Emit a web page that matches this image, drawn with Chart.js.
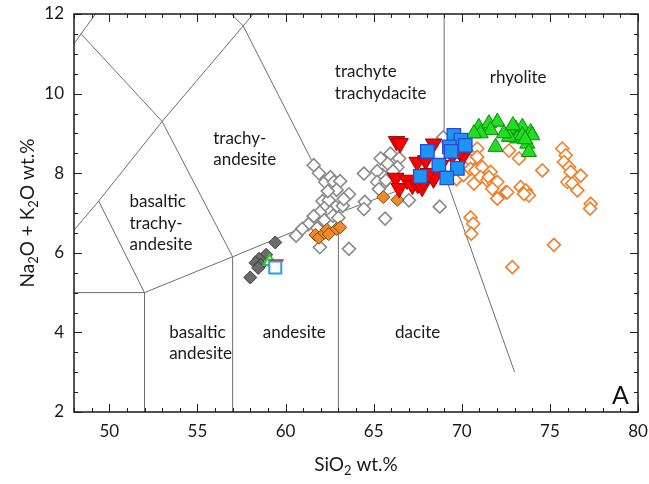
<!DOCTYPE html>
<html>
<head>
<meta charset="utf-8">
<script src="https://cdn.jsdelivr.net/npm/chart.js@4.4.1/dist/chart.umd.min.js"></script>
<style>
html,body{margin:0;padding:0;background:#fff;}
canvas{display:block;}
</style>
</head>
<body>
<canvas id="c" width="649" height="484" style="width:649px;height:484px"></canvas>
<script>
// ---- axis ranges & tick labels ----
const xRange = [48, 80];
const yRange = [2, 12];
const xTickLabels = [50, 55, 60, 65, 70, 75, 80];
const yTickLabels = [2, 4, 6, 8, 10, 12];

// ---- TAS field boundaries (SiO2, Na2O+K2O) ----
const boundaryA = [[45, 9.4], [48.4, 11.5], [52.5, 14]];
const boundaryB = [[48.4, 11.5], [53, 9.3], [57, 5.9]];
const boundaryC = [[45, 5], [49.4, 7.3], [53, 9.3], [57.6, 11.7], [61, 13.5]];
const boundaryD = [[49.4, 7.3], [52, 5]];
const boundaryE = [[52.5, 14], [57.6, 11.7], [63, 7]];
const boundaryF = [[69, 8], [69, 12]];
const boundaryG = [[45, 5], [52, 5]];
const boundaryH1 = [[52, 2], [52, 5]];
const boundaryH2 = [[57, 2], [57, 5.9]];
const boundaryH3 = [[63, 2], [63, 7]];
const boundaryI = [[52, 5], [57, 5.9], [63, 7], [69, 8]];
const boundaryJ = [[69, 8], [73, 3]];

// ---- field names ----
const fieldLabels = [
  {lines: ["trachyte", "trachydacite"], x: 62.8, y: 10.55, align: "left"},
  {lines: ["rhyolite"], x: 73.2, y: 10.4, align: "center"},
  {lines: ["trachy-", "andesite"], x: 55.9, y: 8.88, align: "left"},
  {lines: ["basaltic", "trachy-", "andesite"], x: 51.15, y: 7.28, align: "left"},
  {lines: ["basaltic", "andesite"], x: 53.4, y: 4.0, align: "left"},
  {lines: ["andesite"], x: 60.5, y: 4.0, align: "center"},
  {lines: ["dacite"], x: 67.5, y: 4.0, align: "center"}
];
const panelLetter = "A";

// ---- sample series (SiO2, Na2O+K2O) ----
const grayOpenDiamonds = [
  [61.6,8.2],[61.9,8.0],[62.25,7.78],[62.55,7.9],[62.75,7.78],[63.1,7.8],[62.9,7.58],[63.6,7.47],
  [62.1,7.3],[62.45,7.32],[62.2,7.12],[62.85,7.15],[63.25,7.18],[62.55,7.02],[61.95,7.02],[61.6,6.92],
  [62.2,6.82],[62.7,6.93],[63.0,6.88],[61.3,6.72],[60.95,6.6],[60.6,6.43],[61.95,6.14],[63.6,6.1],
  [64.45,7.99],[64.5,7.28],[64.45,7.1],[65.65,6.86],[65.4,8.37],[65.95,8.49],[65.8,8.24],[66.45,8.37],
  [66.35,8.15],[65.5,7.95],[65.55,7.74],[67.0,7.32],[68.75,7.16],[68.95,8.9],[62.4,7.55],[63.3,7.35],
  [62.0,6.55],[61.8,6.62],[66.1,8.05],[65.2,8.05],[65.2,7.78],[65.7,7.82],[65.3,7.6]
];
const orangeOpenDiamonds = [
  [69.7,7.85],[69.9,8.3],[70.1,7.95],[70.3,8.4],[70.5,8.32],[70.5,8.11],[70.88,8.62],[70.88,8.41],
  [70.78,8.07],[71.16,8.15],[71.07,7.9],[70.69,7.74],[71.45,7.82],[71.64,8.03],[71.54,7.9],[71.83,7.74],
  [72.02,7.78],[71.73,7.61],[72.49,7.52],[72.58,7.52],[72.02,7.36],[72.68,8.57],[73.25,8.37],[73.34,7.65],
  [73.63,7.57],[73.81,7.44],[73.53,7.48],[74.57,8.07],[75.7,8.62],[75.9,8.45],[75.8,8.28],[76.09,8.15],
  [76.18,8.03],[76.75,7.94],[75.99,7.78],[76.27,7.74],[76.56,7.57],[77.32,7.23],[77.28,7.11],[70.5,6.89],
  [70.65,6.73],[70.54,6.48],[75.23,6.2],[72.87,5.64]
];
const darkGrayDiamonds = [[59.42,6.26],[58.9,5.95],[58.5,5.85],[58.3,5.75],[58.6,5.7],[58.45,5.62],[58.0,5.38]];
const orangeFilledDiamonds = [[61.7,6.45],[61.9,6.38],[62.2,6.5],[62.35,6.58],[62.45,6.47],[62.9,6.6],[63.1,6.64],[65.55,7.4],[66.35,7.33]];
const redDownTriangles = [
  [66.3,8.8],[66.5,8.75],[68.4,8.74],[67.47,8.28],[67.95,8.32],[66.25,7.88],[66.45,7.62],[66.9,7.83],
  [67.2,7.7],[67.5,7.72],[67.75,7.65],[68.4,7.86],[68.5,7.95],[69.45,8.45],[70.05,8.42],[68.8,8.2],
  [67.8,7.8],[69.9,8.55],[68.1,8.0]
];
const blueSquares = [[69.55,8.95],[69.95,8.83],[69.3,8.66],[70.2,8.7],[68.05,8.55],[68.7,8.2],[69.75,8.12],[67.65,7.92],[69.15,7.88],[69.4,8.55]];
const greenTriangles = [
  [70.97,9.16],[71.54,9.25],[72.02,9.29],[71.64,9.08],[71.07,9.0],[70.69,9.0],[72.77,9.08],[73.06,9.12],
  [73.44,9.16],[73.91,9.03],[74.0,8.95],[73.15,8.87],[72.68,8.91],[71.92,8.66],[73.72,8.74],[73.81,8.53],
  [73.44,8.95],[72.39,9.0],[72.9,9.2],[73.6,8.85]
];
const greenOpenTriangle = [[59.1,5.78]];
const redOpenDownTriangle = [[59.45,5.72]];
const blueOpenSquare = [[59.42,5.63]];

const FONT = "Lato, 'Open Sans', 'DejaVu Sans', sans-serif";
const toPts = arr => arr.map(p => ({x: p[0], y: p[1]}));

function lineDs(arr) {
  return {type: 'line', data: toPts(arr), borderColor: '#6e6e6e', borderWidth: 1,
          pointRadius: 0, fill: false, tension: 0, showLine: true};
}
function markDs(arr, style, r, bg, bd, bw, rot) {
  return {type: 'scatter', data: toPts(arr), pointStyle: style, pointRadius: r,
          pointBackgroundColor: bg, pointBorderColor: bd, pointBorderWidth: bw,
          pointRotation: rot || 0};
}

// first dataset is drawn on top
const datasets = [
  markDs(blueOpenSquare, 'rect', 8.5, '#ffffff', '#22a0f0', 2),
  markDs(redOpenDownTriangle, 'triangle', 7.5, 'rgba(0,0,0,0)', '#ff1010', 2, 180),
  markDs(greenOpenTriangle, 'triangle', 7, '#ffffff', '#18d818', 2),
  markDs(blueSquares, 'rect', 9.5, '#1f95f2', '#2a48d8', 1.3),
  markDs(greenTriangles, 'triangle', 8.8, '#22dd22', '#0b8a0b', 1),
  markDs(redDownTriangles, 'triangle', 9.5, '#ff0000', '#9a0000', 1, 180),
  markDs(orangeFilledDiamonds, 'rectRot', 6.5, '#f0892a', '#7a4a10', 1),
  markDs(darkGrayDiamonds, 'rectRot', 6.5, '#6b6b6b', '#3c3c3c', 1),
  markDs(orangeOpenDiamonds, 'rectRot', 6.5, '#ffffff', '#f07d28', 1.6),
  markDs(grayOpenDiamonds, 'rectRot', 6.5, '#ffffff', '#8a8a8a', 1.6),
  lineDs(boundaryA), lineDs(boundaryB), lineDs(boundaryC), lineDs(boundaryD), lineDs(boundaryE),
  lineDs(boundaryF), lineDs(boundaryG), lineDs(boundaryH1), lineDs(boundaryH2), lineDs(boundaryH3),
  lineDs(boundaryI), lineDs(boundaryJ)
];

function drawRich(ctx, parts, cx, cy, size) {
  const subSize = Math.round(size * 0.68);
  let w = 0;
  parts.forEach(p => { ctx.font = (p.sub ? subSize : size) + 'px ' + FONT; w += ctx.measureText(p.t).width; });
  let x = cx - w / 2;
  ctx.textAlign = 'left';
  ctx.textBaseline = 'alphabetic';
  parts.forEach(p => {
    ctx.font = (p.sub ? subSize : size) + 'px ' + FONT;
    ctx.fillText(p.t, x, p.sub ? cy + size * 0.22 : cy);
    x += ctx.measureText(p.t).width;
  });
}

const decor = {
  id: 'decor',
  afterDatasetsDraw(chart) {
    const ctx = chart.ctx, xs = chart.scales.x, ys = chart.scales.y, a = chart.chartArea;
    ctx.save();
    // field labels
    ctx.fillStyle = '#1a1a1a';
    ctx.font = '17px ' + FONT;
    ctx.textBaseline = 'middle';
    fieldLabels.forEach(f => {
      ctx.textAlign = f.align;
      const px = xs.getPixelForValue(f.x), py = ys.getPixelForValue(f.y);
      f.lines.forEach((t, i) => ctx.fillText(t, px, py + i * 21.5));
    });
    // panel letter
    ctx.font = '25px ' + FONT;
    ctx.textAlign = 'right';
    ctx.textBaseline = 'alphabetic';
    ctx.fillStyle = '#111';
    ctx.fillText(panelLetter, a.right - 9, a.bottom - 8);
    // ticks inward on all sides
    ctx.strokeStyle = '#222';
    ctx.lineWidth = 1;
    for (let v = xRange[0]; v <= xRange[1] + 1e-9; v += 1) {
      const px = Math.round(xs.getPixelForValue(v)) + 0.5;
      const len = (v % 5 === 0) ? 8 : 4;
      ctx.beginPath();
      ctx.moveTo(px, a.bottom); ctx.lineTo(px, a.bottom - len);
      ctx.moveTo(px, a.top); ctx.lineTo(px, a.top + len);
      ctx.stroke();
    }
    for (let v = yRange[0]; v <= yRange[1] + 1e-9; v += 0.5) {
      const py = Math.round(ys.getPixelForValue(v)) + 0.5;
      const len = (Math.abs(v % 2) < 1e-9) ? 8 : 4;
      ctx.beginPath();
      ctx.moveTo(a.left, py); ctx.lineTo(a.left + len, py);
      ctx.moveTo(a.right, py); ctx.lineTo(a.right - len, py);
      ctx.stroke();
    }
    // frame
    ctx.lineWidth = 1.5;
    ctx.strokeStyle = '#1a1a1a';
    ctx.strokeRect(a.left, a.top, a.right - a.left, a.bottom - a.top);
    // axis titles
    ctx.fillStyle = '#1a1a1a';
    drawRich(ctx, [{t:'SiO'},{t:'2',sub:true},{t:' wt.%'}], (a.left + a.right) / 2, 471, 19);
    ctx.save();
    ctx.translate(34, (a.top + a.bottom) / 2);
    ctx.rotate(-Math.PI / 2);
    drawRich(ctx, [{t:'Na'},{t:'2',sub:true},{t:'O + K'},{t:'2',sub:true},{t:'O wt.%'}], 0, 0, 19);
    ctx.restore();
    ctx.restore();
  }
};

new Chart(document.getElementById('c'), {
  data: {datasets},
  options: {
    responsive: false,
    animation: false,
    events: [],
    layout: {padding: {top: 14, right: 11, left: 0, bottom: 0}},
    plugins: {legend: {display: false}, tooltip: {enabled: false}},
    scales: {
      x: {
        type: 'linear', min: xRange[0], max: xRange[1],
        afterBuildTicks: s => { s.ticks = xTickLabels.map(v => ({value: v})); },
        ticks: {color: '#1a1a1a', padding: 9, font: {family: FONT, size: 17}, maxRotation: 0, autoSkip: false},
        grid: {display: false, drawTicks: false},
        border: {display: false},
        afterFit: s => { s.height = 72; s.paddingLeft = 0; s.paddingRight = 0; }
      },
      y: {
        type: 'linear', min: yRange[0], max: yRange[1],
        afterBuildTicks: s => { s.ticks = yTickLabels.map(v => ({value: v})); },
        ticks: {color: '#1a1a1a', padding: 10, font: {family: FONT, size: 17}, autoSkip: false},
        grid: {display: false, drawTicks: false},
        border: {display: false},
        afterFit: s => { s.width = 74; s.paddingTop = 0; s.paddingBottom = 0; }
      }
    }
  },
  plugins: [decor]
});
</script>
</body>
</html>
